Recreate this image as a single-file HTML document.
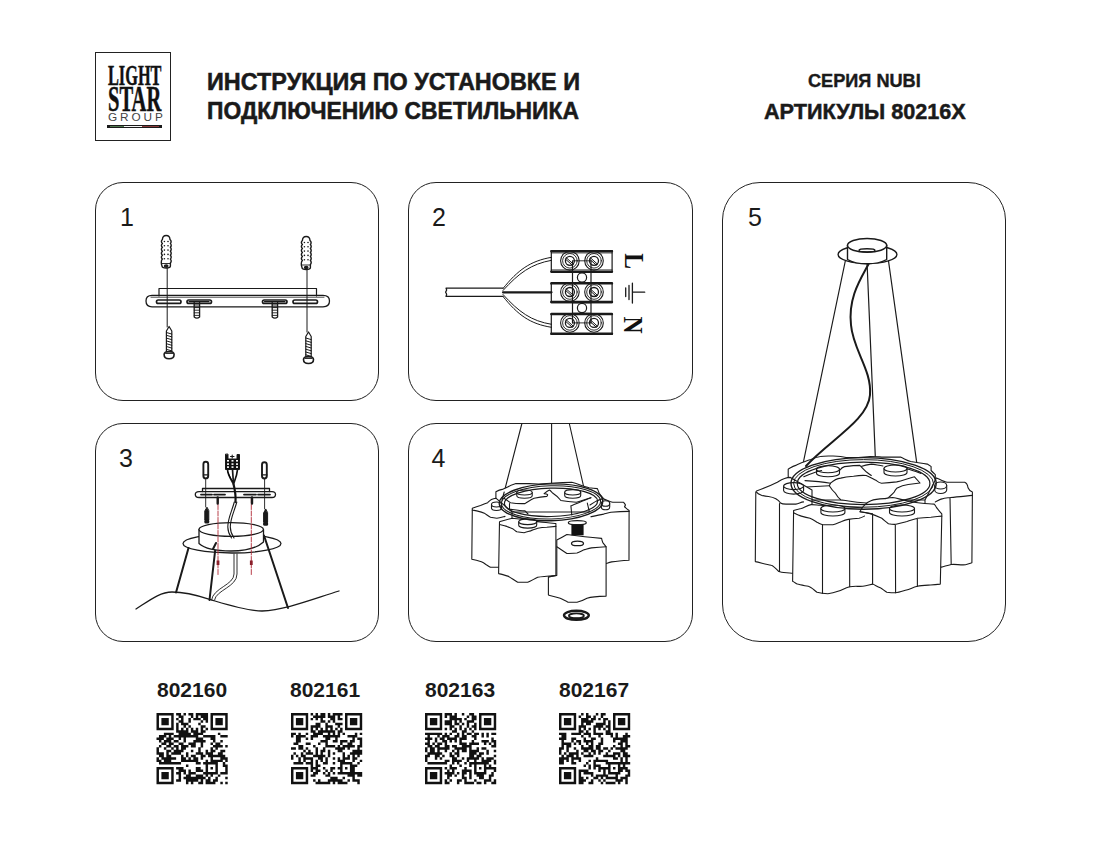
<!DOCTYPE html>
<html><head><meta charset="utf-8">
<style>
html,body{margin:0;padding:0;background:#fff;}
body{width:1100px;height:848px;position:relative;overflow:hidden;font-family:"Liberation Sans",sans-serif;color:#1a1a1a;}
.abs{position:absolute;}
.panel{position:absolute;border:1.3px solid #222;border-radius:28px;box-sizing:border-box;}
.num{position:absolute;font-size:25px;line-height:1;color:#1a1a1a;}
.h1{position:absolute;font-weight:bold;font-size:24px;line-height:1;white-space:nowrap;transform-origin:0 0;}
.lbl{position:absolute;font-weight:bold;font-size:21px;line-height:1;white-space:nowrap;transform-origin:0 0;}
.lg{position:absolute;font-family:"Liberation Serif",serif;font-weight:bold;line-height:1;white-space:nowrap;transform-origin:0 0;color:#111;}
svg.full{position:absolute;left:0;top:0;}
</style></head><body>
<!-- logo -->
<div class="abs" style="left:95px;top:52px;width:76px;height:89px;border:1.5px solid #222;box-sizing:border-box;"></div>
<div class="lg" id="lg1" style="left:108px;top:61px;font-size:28.8px;transform:scaleX(0.566);-webkit-text-stroke:0.5px #111;">LIGHT</div>
<div class="lg" id="lg2" style="left:107.5px;top:82.5px;font-size:34.8px;transform:scaleX(0.59);-webkit-text-stroke:0.5px #111;">STAR</div>
<div class="abs" id="lg3" style="left:108px;top:112px;font-size:11.8px;letter-spacing:2.9px;color:#444;line-height:1;">GROUP</div>
<div class="abs" style="left:107px;top:124.8px;width:55px;height:3px;background:#1a1a1a;"></div>
<div class="abs" style="left:110px;top:125.8px;width:14px;height:1px;background:#4f7a4f;"></div>
<div class="abs" style="left:124px;top:125.8px;width:18px;height:1px;background:#f4f4f4;"></div>
<div class="abs" style="left:142px;top:125.8px;width:17px;height:1px;background:#8a3a3a;"></div>
<div class="h1" style="left:207.3px;top:69.8px;transform:scaleX(0.975);-webkit-text-stroke:0.55px #1a1a1a;">ИНСТРУКЦИЯ ПО УСТАНОВКЕ И</div>
<div class="h1" style="left:207.3px;top:98.8px;transform:scaleX(0.952);-webkit-text-stroke:0.55px #1a1a1a;">ПОДКЛЮЧЕНИЮ СВЕТИЛЬНИКА</div>
<div class="h1" style="left:808px;top:72px;font-size:18.5px;transform:scaleX(0.98);-webkit-text-stroke:0.4px #1a1a1a;">СЕРИЯ NUBI</div>
<div class="h1" style="left:763.8px;top:101px;font-size:22px;transform:scaleX(0.983);-webkit-text-stroke:0.5px #1a1a1a;">АРТИКУЛЫ 80216X</div>

<div class="panel" style="left:95px;top:182px;width:284px;height:219px;"></div>
<div class="panel" style="left:408px;top:182px;width:285px;height:219px;"></div>
<div class="panel" style="left:95px;top:423px;width:284px;height:219px;"></div>
<div class="panel" style="left:408px;top:423px;width:285px;height:219px;"></div>
<div class="panel" style="left:722px;top:182px;width:284px;height:460px;border-radius:38px;"></div>

<div class="num" style="left:120px;top:205px;">1</div>
<div class="num" style="left:432px;top:205px;">2</div>
<div class="num" style="left:119px;top:446px;">3</div>
<div class="num" style="left:431.5px;top:446px;">4</div>
<div class="num" style="left:748px;top:205px;">5</div>

<div class="lbl" style="left:157px;top:679px;">802160</div>
<div class="lbl" style="left:290px;top:679px;">802161</div>
<div class="lbl" style="left:425px;top:679px;">802163</div>
<div class="lbl" style="left:559px;top:679px;">802167</div>
<svg class="full" width="1100" height="848" viewBox="0 0 1100 848">

<g fill="none" stroke="#1a1a1a" stroke-width="1.2" stroke-linejoin="round" stroke-linecap="round">
<path d="M162.4 239.5 Q162.6 235.5 166.2 235.5 Q169.8 235.5 170.0 239.5 Q172.0 241.5 170.4 243.4 Q172.0 245.4 170.4 247.3 Q172.0 249.3 170.4 251.2 Q172.0 253.2 170.4 255.2 Q172.0 257.1 170.4 259.1 Q172.0 261.0 170.4 263.0 L170.4 266.0 Q170.4 268.0 166.2 268.0 Q162.0 268.0 162.0 266.0 Q160.4 261.0 162.4 259.1 Q160.4 257.1 162.4 255.2 Q160.4 253.2 162.4 251.2 Q160.4 249.3 162.4 247.3 Q160.4 245.4 162.4 243.4 Q160.4 241.5 162.4 239.5 Z" stroke-width="1.4"/>
<g fill="#1a1a1a" stroke="none"><circle cx="164.4" cy="241.5" r="0.8"/><circle cx="168.0" cy="241.5" r="0.8"/><circle cx="164.4" cy="245.8" r="0.8"/><circle cx="168.0" cy="245.8" r="0.8"/><circle cx="164.4" cy="250.1" r="0.8"/><circle cx="168.0" cy="250.1" r="0.8"/><circle cx="164.4" cy="254.4" r="0.8"/><circle cx="168.0" cy="254.4" r="0.8"/><circle cx="164.4" cy="258.7" r="0.8"/><circle cx="168.0" cy="258.7" r="0.8"/></g>
<path d="M162.4 263.5 L170.0 263.5" stroke-width="0.9"/><ellipse cx="166.2" cy="266.0" rx="1.8" ry="1.1" fill="#1a1a1a"/>
<path d="M302.4 240.5 Q302.6 236.5 306.2 236.5 Q309.8 236.5 310.0 240.5 Q312.0 242.5 310.4 244.5 Q312.0 246.5 310.4 248.5 Q312.0 250.5 310.4 252.5 Q312.0 254.5 310.4 256.5 Q312.0 258.5 310.4 260.5 Q312.0 262.5 310.4 264.5 L310.4 267.5 Q310.4 269.5 306.2 269.5 Q302.0 269.5 302.0 267.5 Q300.4 262.5 302.4 260.5 Q300.4 258.5 302.4 256.5 Q300.4 254.5 302.4 252.5 Q300.4 250.5 302.4 248.5 Q300.4 246.5 302.4 244.5 Q300.4 242.5 302.4 240.5 Z" stroke-width="1.4"/>
<g fill="#1a1a1a" stroke="none"><circle cx="304.4" cy="242.5" r="0.8"/><circle cx="308.0" cy="242.5" r="0.8"/><circle cx="304.4" cy="246.8" r="0.8"/><circle cx="308.0" cy="246.8" r="0.8"/><circle cx="304.4" cy="251.1" r="0.8"/><circle cx="308.0" cy="251.1" r="0.8"/><circle cx="304.4" cy="255.4" r="0.8"/><circle cx="308.0" cy="255.4" r="0.8"/><circle cx="304.4" cy="259.7" r="0.8"/><circle cx="308.0" cy="259.7" r="0.8"/></g>
<path d="M302.4 265.0 L310.0 265.0" stroke-width="0.9"/><ellipse cx="306.2" cy="267.5" rx="1.8" ry="1.1" fill="#1a1a1a"/>
<path d="M167.2 268 L167.2 327 M307 269.5 L307 332" stroke-width="1"/>
<path d="M159 296 L159 288.5 L316.5 288.5 L316.5 296" />
<path d="M152 295.3 L323 295.3 Q329.5 295.3 329.5 301 Q329.5 306.8 323 306.8 L152 306.8 Q146 306.8 146 301 Q146 295.3 152 295.3 Z" stroke-width="1.3"/>
<path d="M151 297.2 L324 297.2" stroke-width="0.8"/>
<g stroke-width="1.7"><rect x="156.5" y="300" width="24.5" height="3.4" rx="1.7" /><rect x="187" y="300" width="24.5" height="3.4" rx="1.7" /><rect x="262.5" y="300" width="24.5" height="3.4" rx="1.7" /><rect x="293" y="300" width="24.5" height="3.4" rx="1.7" /></g>
<path d="M189 301.7 L209 301.7 M264.5 301.7 L285 301.7" stroke-width="1.2"/>
<path d="M194.2 302.5 L194.2 317.0 Q196.9 319.3 199.6 317.0 L199.6 302.5" stroke-width="1.3"/>
<path d="M194.2 305.0 L199.6 305.0 M194.2 307.6 L199.6 307.6 M194.2 310.2 L199.6 310.2 M194.2 312.8 L199.6 312.8 M194.2 315.4 L199.6 315.4 " stroke-width="0.9"/>
<path d="M272.2 302.5 L272.2 317.0 Q274.9 319.3 277.6 317.0 L277.6 302.5" stroke-width="1.3"/>
<path d="M272.2 305.0 L277.6 305.0 M272.2 307.6 L277.6 307.6 M272.2 310.2 L277.6 310.2 M272.2 312.8 L277.6 312.8 M272.2 315.4 L277.6 315.4 " stroke-width="0.9"/>
<path d="M169.1 326.5 L166.4 331.0 L166.4 352.0 L171.8 352.0 L171.8 331.0 Z" stroke-width="1.2"/>
<path d="M166.4 332.5 L171.8 334.1 M166.4 335.3 L171.8 336.9 M166.4 338.1 L171.8 339.7 M166.4 340.9 L171.8 342.5 M166.4 343.7 L171.8 345.3 M166.4 346.5 L171.8 348.1 M166.4 349.3 L171.8 350.9 " stroke-width="1"/>
<path d="M164.1 354.5 Q164.1 351.5 169.1 351.5 Q174.1 351.5 174.1 354.5 Q174.1 358.8 169.1 358.8 Q164.1 358.8 164.1 354.5 Z" stroke-width="1.6"/>
<path d="M165.6 353.5 L172.6 353.5" stroke-width="0.9"/>
<path d="M308.5 332.0 L305.8 336.5 L305.8 357.0 L311.2 357.0 L311.2 336.5 Z" stroke-width="1.2"/>
<path d="M305.8 338.0 L311.2 339.6 M305.8 340.8 L311.2 342.4 M305.8 343.6 L311.2 345.2 M305.8 346.4 L311.2 348.0 M305.8 349.2 L311.2 350.8 M305.8 352.0 L311.2 353.6 M305.8 354.8 L311.2 356.4 " stroke-width="1"/>
<path d="M303.5 359.5 Q303.5 356.5 308.5 356.5 Q313.5 356.5 313.5 359.5 Q313.5 363.5 308.5 363.5 Q303.5 363.5 303.5 359.5 Z" stroke-width="1.6"/>
<path d="M305.0 358.5 L312.0 358.5" stroke-width="0.9"/>
</g>

<g fill="none" stroke="#1a1a1a" stroke-width="1.2" stroke-linejoin="round" stroke-linecap="round">
<!-- cable -->
<path d="M446 288.2 L503 288.2 M446 296.4 L503 296.4 M446 288.2 q1.5 2 -0.5 4 q2 2 0.5 4.2" />
<!-- wires -->
<path d="M503 288.5 C518 270, 530 261, 551.5 257.3 M503 290.5 C519 273, 531 264, 551.5 260.3" stroke-width="1"/>
<path d="M503 294.5 C519 312, 531 321, 551.5 324.3 M503 296.5 C518 315, 530 324, 551.5 327.3" stroke-width="1"/>
<path d="M503 292.3 L551.5 292.3" stroke-width="2.2"/>
<!-- blocks -->
<rect x="551.3" y="250.5" width="60.8" height="21.8" />
<path d="M551.3 251.2 L612 251.2 M551.3 271.6 L612 271.6" stroke-width="2.4"/>
<path d="M551.3 253 L612 253 M551.3 269.8 L612 269.8" stroke-width="0.7"/>
<rect x="551.3" y="282.7" width="60.8" height="20" />
<path d="M551.3 283.4 L612 283.4 M551.3 302 L612 302" stroke-width="2.4"/>
<rect x="551.3" y="313.4" width="60.8" height="21" />
<path d="M551.3 314.1 L612 314.1 M551.3 333.8 L612 333.8" stroke-width="2.4"/>
<!-- strip -->
<path d="M572.5 261 L572.5 323 M591 261 L591 323 M572.5 272.4 L591 272.4 M572.5 282.7 L591 282.7 M572.5 302.7 L591 302.7 M572.5 313.4 L591 313.4" />
<circle cx="582" cy="277.5" r="4.6" />
<circle cx="582" cy="308" r="4.6" />
<!-- screws -->
<g id="scr">
<circle cx="569.9" cy="260.8" r="9.3" stroke-width="1.1"/>
<circle cx="569.9" cy="260.8" r="7.3" stroke-width="0.9"/>
<circle cx="569.9" cy="260.8" r="4.5" stroke-width="1.3"/>
<path d="M566 257.5 L573.5 264.3 M565.2 258.9 L572.4 265.2" stroke-width="1"/>
</g>
<use href="#scr" x="24.1" y="0"/>
<use href="#scr" x="0" y="31.2"/>
<use href="#scr" x="24.1" y="31.2"/>
<use href="#scr" x="0" y="62.1"/>
<use href="#scr" x="24.1" y="62.1"/>
<path d="M572.5 260.8 L591 260.8 M572.5 322.9 L591 322.9" stroke-width="0.9"/>
<!-- ground symbol -->
<path d="M625.7 287.8 L625.7 296.5 M629 285.5 L629 299.5 M632.4 283.2 L632.4 303 M632.4 292.2 L644.7 292.2" stroke-width="1.3"/>
</g>
<text x="0" y="0" transform="translate(624.5 253.2) rotate(90) scale(0.84 1)" font-family="Liberation Serif" font-weight="bold" font-size="28" fill="#111" dominant-baseline="alphabetic"><tspan x="0" y="0">L</tspan></text>
<text x="0" y="0" transform="translate(624 316.5) rotate(90) scale(0.84 1)" font-family="Liberation Serif" font-weight="bold" font-size="28" fill="#111"><tspan x="0" y="0">N</tspan></text>

<g fill="none" stroke="#1a1a1a" stroke-width="1.2" stroke-linejoin="round" stroke-linecap="round">
<!-- ceiling curve -->
<path d="M136 609 C150 600, 160 592, 172 592 C190 592, 205 598, 215 601 C235 607, 250 611, 262 611 C285 610, 310 600, 339 591" stroke-width="1.3"/>
<!-- cone lines thick -->
<path d="M188.5 548 L176 592.5 M216 543 L209.5 600 M264 535.5 L288 608" stroke-width="2"/>
<!-- plate ellipse -->
<ellipse cx="232" cy="543.5" rx="49" ry="9.5" stroke-width="1.3"/>
<!-- cylinder -->
<path d="M199 529.5 L199 543.5 C205 549, 218 551, 231 551 C245 551, 257 548, 263.5 542 L263.5 529.5" fill="#fff" stroke-width="1.3"/>
<ellipse cx="231.2" cy="529.5" rx="32.2" ry="6.8" fill="#fff" stroke-width="1.3"/>
<!-- wire double -->
<path d="M234 554 L234 574 C234 585, 213 588, 211.5 600 M237 554 L237 574 C237 587, 216 590, 214.5 600" stroke-width="0.9"/>
<!-- wire above -->
<path d="M234.3 502 C232 511, 227.8 518, 227.8 527 C227.8 532, 229.5 535, 231.5 538 M236.8 502 C234.5 511, 230.3 518, 230.3 527 C230.3 532, 232 535, 234 538" stroke-width="1.1"/>
<path d="M216 543 L213 549" stroke-width="2"/>
<!-- red dashed -->
<path d="M218 498 L218 576 M251.3 498 L251.3 576" stroke="#b02a37" stroke-width="0.9" stroke-dasharray="5 1.5" />
<rect x="216.6" y="560.5" width="2.8" height="4.5" fill="#8a1f2a" stroke="none"/>
<rect x="249.9" y="560.5" width="2.8" height="4.5" fill="#8a1f2a" stroke="none"/>
<!-- bracket -->
<path d="M202.5 491.5 L202.5 488.5 L269.5 488.5 L269.5 491.5" stroke-width="1.3"/>
<path d="M199 491.6 L272 491.6 Q275.5 491.6 275.5 494.5 Q275.5 497.5 272 497.5 L199 497.5 Q195.3 497.5 195.3 494.5 Q195.3 491.6 199 491.6 Z" stroke-width="1.3"/>
<path d="M201 494.6 L212 494.6 M214 494.6 L225 494.6 M244 494.6 L256 494.6 M258 494.6 L270 494.6" stroke-width="1.8"/>
<path d="M217.7 497.5 L217.7 503.5 M252 497.5 L252 503.5" stroke-width="2.4"/>
<!-- dowel lines -->
<path d="M205.7 479 L205.7 507 M264.6 479 L264.6 509" stroke-width="0.9"/>
<!-- top dowels -->
<rect x="203.4" y="461.8" width="4.8" height="16.6" rx="2.4" stroke-width="1.9"/>
<path d="M203.5 474.8 L208.2 474.8" stroke-width="1.3"/>
<rect x="262" y="462.3" width="4.8" height="16.2" rx="2.4" stroke-width="1.9"/>
<path d="M262 474.8 L266.8 474.8" stroke-width="1.3"/>
<!-- bottom screws -->
<path d="M206.8 507.5 L204.8 511 L204.8 520 L208.8 520 L208.8 511 Z" fill="#1a1a1a" stroke-width="1"/>
<rect x="204.3" y="519.5" width="5" height="4" rx="1.5" fill="#1a1a1a" stroke="none"/>
<path d="M265.6 509.3 L263.6 513 L263.6 522 L267.6 522 L267.6 513 Z" fill="#1a1a1a" stroke-width="1"/>
<rect x="263.1" y="521.5" width="5" height="4.2" rx="1.5" fill="#1a1a1a" stroke="none"/>
<!-- terminal connector -->
<path d="M225.5 454.5 L225.5 469.5 L239.5 469.5 L239.5 454.5 L237 454.5 L237 459 L228 459 L228 454.5 Z" fill="#111" stroke-width="1"/>
<g fill="#fff" stroke="none"><rect x="227" y="460" width="2" height="1.6"/><rect x="231.5" y="460" width="2" height="1.6"/><rect x="236" y="460" width="2" height="1.6"/><rect x="227" y="463.3" width="2" height="1.6"/><rect x="231.5" y="463.3" width="2" height="1.6"/><rect x="236" y="463.3" width="2" height="1.6"/><rect x="227" y="466.3" width="2" height="1.6"/><rect x="231.5" y="466.3" width="2" height="1.6"/><rect x="236" y="466.3" width="2" height="1.6"/></g>
<path d="M230.5 456.5 L234 456.5 M232.2 455 L232.2 458" stroke-width="1.1"/>
<path d="M227.5 469.5 C228 476, 231.5 480, 233.5 484 M232.5 469.5 L233.5 484 M237.5 469.5 C237 476, 235 480, 233.5 484" stroke-width="1.7"/>
<path d="M233.5 484 C235 490, 236 495, 235.5 502" stroke-width="2.2"/>
</g>
<path d="M230.5 455.5 L234 455.5 M232.2 454 L232.2 457.5" stroke-width="1.1"/>
<path d="M227 469.5 C227.5 476, 232 480, 234 484 M232 469.5 L234 484 M237.5 469.5 C237 476, 235 480, 234 484" stroke-width="1.3"/>
<path d="M234 484 C235 490, 236 495, 235.5 502" stroke-width="2.2"/>
</g>

<g fill="#fff" stroke="#1a1a1a" stroke-width="1.1" stroke-linejoin="round" stroke-linecap="round">
<path d="M521.9 423.5 L504.2 492 M551.6 423.5 L551.6 485 M569.3 423.5 L589.3 511.6" fill="none"/>
<!-- back tops E1/E2 -->
<path d="M495.9 498 L495.9 491.8 C498 490.5, 501 489.5, 503.2 489.1 C507 487.5, 510 485.5, 513.2 484.5 L515.9 483.6 L527.7 483.6 C533 483.5, 538 484, 540 484.1 C550 483, 562 482.5, 571.8 482.3 C578 484, 584 486.5, 589.1 487.7 C592 488.2, 595 488.5, 597.3 488.6 C598 490, 598.5 491.5, 599.1 493.2 C600.5 495, 602 497, 603.6 498.6 L603 512 L497 512 Z"/>
<path d="M516.8 492.5 L516.8 495.7 A7.7 2.5 0 0 0 532.2 495.7 L532.2 492.5" stroke-width="1.1"/><ellipse cx="524.5" cy="492.5" rx="7.7" ry="2.5" stroke-width="1.1"/>
<path d="M564.7 492.3 L564.7 495.5 A8.0 2.7 0 0 0 580.7 495.5 L580.7 492.3" stroke-width="1.1"/><ellipse cx="572.7" cy="492.3" rx="8.0" ry="2.7" stroke-width="1.1"/>
<path d="M504.1 498.2 C506 499.5, 508.5 501.5, 510.5 502.7 C515 503.5, 520 503.8, 525 503.6 C528 501.8, 531 499.5, 534.1 498.2 C538 497.5, 543 496.8, 546.8 496.4 C548 495, 548.5 494, 544.1 493.6 C546 492, 548 490.5, 549.5 490 C551 491, 551.5 492, 552.3 492.7 C555 494.5, 558 496.5, 560.9 500.5 C566 501.5, 571 502, 576.4 502.3 C581 501, 586 499, 590.9 497.7" fill="none"/>
<path d="M509.5 503.6 L509.5 509.1 C515 509.8, 520 510.5, 525 510.9 C526 512, 527 513, 528 514 M570.9 505.9 C578 503, 585 500, 590.9 497.7 M570.9 505.9 L571.8 515" fill="none"/>
<!-- A -->
<path d="M472.3 508.2 C475 507.2, 478 506.2, 480.5 505.5 C483 504.5, 485.5 503.5, 487.7 502.7 C489 501.5, 490 500.3, 491.4 499.5 C493 498.8, 494.5 498.4, 495.9 498.2 L512 512 L512 567.3 L498.6 567.3 C496 567.3, 493 567.3, 490.5 567.3 C489 566.3, 487.5 565.5, 485.9 564.5 C484.5 563.5, 483 562.5, 481.4 561.8 C478 560.8, 475 560, 471.8 559.3 Z"/>
<path d="M472.3 510 C474.5 510.5, 476.5 511, 478.6 511.4 C481 512, 483 512.8, 485 513.6 C487 515, 488.5 516.3, 490.5 517.3 C492.5 517.8, 494.5 518.1, 496.8 518.2 C499.5 517.8, 502.5 517, 505 516.4" fill="none"/>
<path d="M491.5 504.5 L491.5 508.0 A5.0 2.5 0 0 0 501.5 508.0 L501.5 504.5" stroke-width="1.1"/><ellipse cx="496.5" cy="504.5" rx="5.0" ry="2.5" stroke-width="1.1"/>
<!-- D (right) -->
<path d="M590 505 C594 502, 599 499.5, 602.7 498.6 C606 499.5, 609.5 501.5, 612.7 502.3 L623.6 502.3 C624.3 503, 625 504, 625.5 505 C625.2 505.6, 624.8 506.2, 624.5 506.8 C626 508, 627.5 509.5, 629.1 510.5 L629 560.2 C622 560.6, 616 561.2, 611.7 561.9 C609.5 562.5, 608 563, 606.1 563.6 L585 564 Z" stroke="none"/>
<path d="M590 505 C594 502, 599 499.5, 602.7 498.6 C606 499.5, 609.5 501.5, 612.7 502.3 L623.6 502.3 C624.3 503, 625 504, 625.5 505 C625.2 505.6, 624.8 506.2, 624.5 506.8 C626 508, 627.5 509.5, 629.1 510.5 L629 560.2 C622 560.6, 616 561.2, 611.7 561.9 C609.5 562.5, 608 563, 606.1 563.6" fill="none"/>
<path d="M590.9 516.8 C595 515.8, 599 514.8, 603.6 514.1 C606 513.5, 608.5 512.8, 610.9 512.3 C617 511.9, 623 511.6, 629.1 511.4" fill="none"/>
<path d="M601.3 503.5 L601.3 507.0 A4.2 2.8 0 0 0 609.7 507.0 L609.7 503.5" stroke-width="1.1"/><ellipse cx="605.5" cy="503.5" rx="4.2" ry="2.8" stroke-width="1.1"/>
<!-- B -->
<path d="M499.5 521.8 C503.5 520.5, 508 519, 512.3 518.2 C520 519, 535 521.5, 546 522.5 C550 523, 553 523.3, 555.9 523.6 L555.9 575.5 C549 576, 542 576.5, 537.7 577.3 C534 579, 531 581, 527.7 582.3 L517.7 582.3 C514.5 580.5, 511.5 578, 508.6 576.4 C505 575.3, 502 574.3, 498.6 573.6 Z"/>
<path d="M499.5 524.5 C502 525, 504.5 525.8, 506.8 526.4 C509 527.2, 511 528, 513.2 529.1 C514.5 530, 515.5 531, 516.8 531.8 C519 532.3, 521.5 532.6, 524.1 532.7 C526.5 532.2, 528.5 531.5, 530.5 530.9 C533 530, 535 529, 537.7 528.2 C540.5 527.8, 543.5 527.5, 546.8 527.3 C550 527, 553 526.7, 555.9 526.4" fill="none"/>
<path d="M518.7 521.8 L518.7 525.3 A9.0 2.8 0 0 0 536.7 525.3 L536.7 521.8" stroke-width="1.1"/><ellipse cx="527.7" cy="521.8" rx="9.0" ry="2.8" stroke-width="1.1"/>
<!-- C -->
<path d="M556.8 540.1 C560 538.5, 563.5 536.5, 566.9 534.5 L584.8 536.7 C590 537.3, 596 537.9, 601.6 538.4 C601.8 539.8, 602.2 541, 602.7 542.3 C603.8 543.8, 605 545.3, 606.1 546.8 L606.1 596.1 C600 596.2, 592 596.5, 587 598.3 C584 600, 580.5 601.5, 577 602.2 L568 602.2 C565 600.8, 562.5 599.2, 560.2 598.3 C556 597, 552 596, 548.4 595 L548.4 577 L556.8 575.4 Z"/>
<path d="M556.8 546.8 C560 548.8, 563.5 551.3, 566.9 553.5 C570 553.4, 573.5 553.2, 577 553 C579.5 552, 582 550.8, 584.8 549.6 C587 549, 589 548.4, 591.5 547.9 C596 547.5, 601 547.1, 606.1 546.8 M548.4 577 L555.9 575.5" fill="none"/>
<ellipse cx="577.5" cy="543.4" rx="6" ry="2.3" stroke-width="1.3"/>
<!-- rod -->
<rect x="571.4" y="523.5" width="12.2" height="11.8" fill="#111" stroke="none"/>
<ellipse cx="577.3" cy="522.7" rx="9" ry="2" stroke-width="1.2"/>
<!-- ring -->
<ellipse cx="551" cy="502.3" rx="51.8" ry="18.4" fill="none" stroke-width="1.4" transform="rotate(-1.5 551 502.3)"/>
<ellipse cx="551" cy="502.3" rx="49.6" ry="16.6" fill="none" stroke-width="1" transform="rotate(-1.5 551 502.3)"/>
<ellipse cx="551" cy="502.3" rx="46.6" ry="14.2" fill="none" stroke-width="1.2" transform="rotate(-1.5 551 502.3)"/>
<path d="M504.2 492 L502 500 M589.3 511.6 L587.3 503" fill="none"/>
<!-- nut -->
<ellipse cx="576.4" cy="615.3" rx="12.4" ry="4.6" fill="none" stroke-width="2.4"/>
<ellipse cx="576.4" cy="615.8" rx="7.5" ry="2.4" fill="none" stroke-width="1.8"/>
<path d="M566 618.5 L587 618.5" stroke-width="1.4" fill="none"/>
</g>

<g fill="#fff" stroke="#1a1a1a" stroke-width="1.1" stroke-linejoin="round" stroke-linecap="round">
<!-- canopy -->
<ellipse cx="867.5" cy="254.4" rx="29.4" ry="9.1" stroke-width="1.4"/>
<path d="M847.5 245.3 L847.5 259.5 C853 262.8, 860 263.8, 867 263.8 C874 263.8, 881 262.8, 886.7 259.5 L886.7 245.3" stroke-width="1.4"/>
<ellipse cx="867.1" cy="245.3" rx="19.6" ry="6.9" stroke-width="1.5"/>
<ellipse cx="867" cy="250.3" rx="8" ry="1.6" stroke-width="1.4" fill="none"/>
<path d="M845.3 261 L798 488 M867.1 264 L875.4 459 M888.5 261 L921.4 496" fill="none" stroke-width="1.2"/>
<!-- back shades tops -->
<path d="M788.2 476 L788.2 469.2 C791 467.5, 793 466, 795.8 465.4 C800 463.5, 805 461, 811 459.5 C814 458, 817 457, 820.4 456.5 C826 455.5, 840 456, 846 457.5 C855 458, 864 457, 870 456.5 C876 456.5, 880 457, 882.7 457.1 L900.5 457.1 C904 458.5, 907 460.5, 910.7 461.5 C916 462.5, 922 463, 927.3 464.1 C929 465, 930.5 465.5, 931.1 466.6 L931.1 470.5 C932.5 472, 934 473.5, 935.3 474.6 L935 500 L790 500 Z"/>
<path d="M816.5 469.2 L816.5 473.2 A11.5 3.5 0 0 0 839.5 473.2 L839.5 469.2" stroke-width="1.1"/><ellipse cx="828.0" cy="469.2" rx="11.5" ry="3.5" stroke-width="1.1"/>
<path d="M884.0 468.5 L884.0 472.5 A11.5 3.5 0 0 0 907.0 472.5 L907.0 468.5" stroke-width="1.1"/><ellipse cx="895.5" cy="468.5" rx="11.5" ry="3.5" stroke-width="1.1"/>
<path d="M803.8 476.8 C810 474, 816 471.5, 821.6 470.5 M839.5 470.5 C841 468.5, 842.5 467, 844.5 466.6 C850 466, 855 465.5, 859.8 465.4 C862 467.5, 864 470, 866.2 471.7 C868 473, 870 474.5, 871.3 475.5 M861 466.6 C865 465, 868 464.5, 871.3 464.1 C875 464.5, 879 465.5, 883 466 M907 469 C912 470, 917 472, 921 473.5" fill="none"/>
<path d="M830.5 483.2 C834 480, 837 478.5, 840.7 478.1 C845 477, 850 476.5, 853.5 476.2 C858 475.5, 862 475, 866.2 475.5 C870 477, 873 479, 876.4 480.6 C878 482, 880 483, 881.5 483.2 C886 483, 892 482.5, 896.7 481.9 C903 480.5, 909 478, 914.5 476.8 L920 483 C916 483.5, 912 484, 908.2 484.5 C904 485, 900 486.5, 896.7 488.3 C895.5 489.5, 895 490.5, 894.2 492.1 C892 494.5, 889 497, 886.5 499.7 C883 501, 880 502.5, 876.4 503.5 C865 503, 850 501.5, 840.7 499.7 C838.5 498, 837 496, 835.6 493.4 C833 491, 831 488.5, 829.3 485.7 Z" />
<path d="M805 480.6 C815 481, 824 482, 830.5 483.2 M806.4 487 C815 486.5, 823 486, 829.3 485.7" fill="none"/>
<!-- left shade L -->
<path d="M756.5 491 C762 489, 772 485, 777.3 482.3 C781 480, 784 477.6, 790.4 477.4 L812 490 L812 575 L791.9 573.2 C785 572.5, 781 572.5, 778.8 571.5 C775 568, 773 565.5, 771.2 565.3 C766 564.5, 760 562.5, 755.3 561.6 L755.8 492 Z"/>
<path d="M756.5 492.1 C758 494.5, 764 496.5, 768.5 496.5 C772 497, 778 499, 780.5 503 C782 504, 784 504.1, 786 504.1 L795.8 504.1 C799 503.5, 801 502, 803.5 501.9 M779.5 503.5 L779.5 571.5" fill="none"/>
<path d="M783.6 486.1 L783.6 490.6 A10.0 3.5 0 0 0 803.6 490.6 L803.6 486.1" stroke-width="1.1"/><ellipse cx="793.6" cy="486.1" rx="10.0" ry="3.5" stroke-width="1.1"/>
<!-- right shade R -->
<path d="M936.4 477.9 C940 479.5, 944 482, 947.3 482.3 L964.7 482.3 C966.5 483, 967.5 484, 968 487.7 C969 490, 971 491.5, 972.4 492.1 L971.9 562.7 C968 563.8, 966 564.8, 963.2 564.9 C958 564.8, 955 564, 951.2 564.5 C947 565.5, 944 566.5, 941.4 567.1 L925 567 L925 500 Z"/>
<path d="M935.3 501.9 C938 500.5, 940 499, 942.9 498.6 C946 498, 948 497.5, 950.5 497.5 C958 497, 966 496, 972.4 495.4 M950 497.5 L951.2 564.5" fill="none"/>
<path d="M934.7 485.5 L934.7 490.0 A6.0 3.5 0 0 0 946.7 490.0 L946.7 485.5" stroke-width="1.1"/><ellipse cx="940.7" cy="485.5" rx="6.0" ry="3.5" stroke-width="1.1"/>
<!-- front-left shade FL -->
<path d="M793.6 510.6 C796 509.5, 799 509, 801.3 508.5 C805 507, 808 505, 811.1 504.6 C814 504.5, 817 505, 819.8 505.2 L866 508 C868 510, 870 512, 872.6 513.9 L872.6 584.1 C869 585, 866 586, 862.8 586.3 C858 586.5, 853 586, 849.7 586.7 C845 588, 842 590, 838.8 591.1 C835 592.5, 831 593.5, 827.9 593.7 C823 593.5, 820 593, 817 592.2 C814 590, 811 587, 808.3 586.3 C804 585.5, 800 585, 797.4 584.1 C795.5 583, 794 582, 792.6 581.3 Z"/>
<path d="M793.6 512.8 C796 514, 799 515.5, 801.3 516.1 C805 517, 807 517.5, 810 518.3 C813 519.5, 815 521, 817.6 522.6 C819.5 523.5, 821 524.5, 823.1 524.8 L832.9 524.8 C836 524, 839 522.5, 841.6 521.5 C844 520.5, 846 519.8, 848.2 519.4 C852 518.8, 856 518.5, 859.1 518.3 C861 517.8, 863 516.8, 864.5 516.1 M822.5 524.8 L822.5 593.3 M849.5 519.4 L849.7 586.7" fill="none"/>
<!-- front-right shade FR -->
<path d="M860 511.7 C866 499, 876 499, 885.1 498.6 C888 498, 890 497.5, 892.7 497.5 C897 498, 902 500, 906.9 500.8 C911 501.5, 915 502.5, 920 503 C925 503.5, 930 504, 934.2 504.1 C935 505, 935.8 506, 936.4 507.4 C938 509.5, 940 512, 941.8 513.9 L941.8 516.1 L940.3 584.1 C937 584.5, 934 584.8, 930.5 585 C926 585.3, 921 585.5, 917.4 586.3 C913 587.5, 910 589, 906.5 590 C903 591, 899 592.5, 895.6 592.8 C892 592.8, 889 592.5, 886.8 592.2 C884 590.5, 882 588.5, 880.3 587.8 C877 586.5, 875 585, 872.6 584.1 L872.6 513.9 Z"/>
<path d="M860 511.7 C864 512, 868 513, 870.9 513.9 C875 515, 879 517, 881.8 518.3 C884 520, 886 522, 888.4 523.7 C891 524.2, 893 524.5, 896 524.3 C900 523.5, 903 522.5, 906.9 521.5 C910 520.5, 914 519, 917.8 518.3 C922 517.8, 926 517.5, 930.9 517.2 C935 516.8, 938 516.5, 941.8 516.1 M895.3 524.3 L895.6 592.8 M917.3 518.3 L917.4 586.3" fill="none"/>
<path d="M820.9 508.5 L820.9 512.5 A12.0 3.5 0 0 0 844.9 512.5 L844.9 508.5" stroke-width="1.1"/><ellipse cx="832.9" cy="508.5" rx="12.0" ry="3.5" stroke-width="1.1"/>
<path d="M889.5 508.5 L889.5 512.5 A12.5 3.5 0 0 0 914.5 512.5 L914.5 508.5" stroke-width="1.1"/><ellipse cx="902.0" cy="508.5" rx="12.5" ry="3.5" stroke-width="1.1"/>
<!-- ring -->
<ellipse cx="863.6" cy="483.4" rx="72.6" ry="25.8" fill="none" stroke-width="1.4"/>
<ellipse cx="863.6" cy="483.4" rx="70" ry="23.8" fill="none" stroke-width="1"/>
<ellipse cx="863.6" cy="483.4" rx="66.3" ry="21.2" fill="none" stroke-width="1.2"/>
<path d="M868.6 264 C860 280, 848 298, 851 325 C853 350, 872 370, 870 395 C868 420, 830 440, 806 466" fill="none" stroke-width="2"/>
</g>

<path fill="#111" d="M156.50 713.00h17.19v2.46h-17.19zM176.14 713.00h4.91v2.46h-4.91zM183.51 713.00h2.46v2.46h-2.46zM188.42 713.00h4.91v2.46h-4.91zM195.78 713.00h12.28v2.46h-12.28zM210.51 713.00h17.19v2.46h-17.19zM156.50 715.46h2.46v2.46h-2.46zM171.23 715.46h2.46v2.46h-2.46zM178.60 715.46h4.91v2.46h-4.91zM190.87 715.46h2.46v2.46h-2.46zM195.78 715.46h2.46v2.46h-2.46zM200.69 715.46h7.37v2.46h-7.37zM210.51 715.46h2.46v2.46h-2.46zM225.24 715.46h2.46v2.46h-2.46zM156.50 717.91h2.46v2.46h-2.46zM161.41 717.91h7.37v2.46h-7.37zM171.23 717.91h2.46v2.46h-2.46zM176.14 717.91h2.46v2.46h-2.46zM181.05 717.91h2.46v2.46h-2.46zM188.42 717.91h2.46v2.46h-2.46zM193.33 717.91h7.37v2.46h-7.37zM203.15 717.91h4.91v2.46h-4.91zM210.51 717.91h2.46v2.46h-2.46zM215.42 717.91h7.37v2.46h-7.37zM225.24 717.91h2.46v2.46h-2.46zM156.50 720.37h2.46v2.46h-2.46zM161.41 720.37h7.37v2.46h-7.37zM171.23 720.37h2.46v2.46h-2.46zM178.60 720.37h4.91v2.46h-4.91zM188.42 720.37h2.46v2.46h-2.46zM200.69 720.37h2.46v2.46h-2.46zM205.60 720.37h2.46v2.46h-2.46zM210.51 720.37h2.46v2.46h-2.46zM215.42 720.37h7.37v2.46h-7.37zM225.24 720.37h2.46v2.46h-2.46zM156.50 722.82h2.46v2.46h-2.46zM161.41 722.82h7.37v2.46h-7.37zM171.23 722.82h2.46v2.46h-2.46zM176.14 722.82h2.46v2.46h-2.46zM181.05 722.82h7.37v2.46h-7.37zM198.24 722.82h2.46v2.46h-2.46zM210.51 722.82h2.46v2.46h-2.46zM215.42 722.82h7.37v2.46h-7.37zM225.24 722.82h2.46v2.46h-2.46zM156.50 725.28h2.46v2.46h-2.46zM171.23 725.28h2.46v2.46h-2.46zM176.14 725.28h2.46v2.46h-2.46zM183.51 725.28h2.46v2.46h-2.46zM188.42 725.28h2.46v2.46h-2.46zM200.69 725.28h4.91v2.46h-4.91zM210.51 725.28h2.46v2.46h-2.46zM225.24 725.28h2.46v2.46h-2.46zM156.50 727.73h17.19v2.46h-17.19zM176.14 727.73h2.46v2.46h-2.46zM181.05 727.73h2.46v2.46h-2.46zM185.96 727.73h2.46v2.46h-2.46zM190.87 727.73h2.46v2.46h-2.46zM195.78 727.73h2.46v2.46h-2.46zM200.69 727.73h2.46v2.46h-2.46zM205.60 727.73h2.46v2.46h-2.46zM210.51 727.73h17.19v2.46h-17.19zM176.14 730.19h12.28v2.46h-12.28zM190.87 730.19h7.37v2.46h-7.37zM200.69 730.19h4.91v2.46h-4.91zM163.87 732.64h9.82v2.46h-9.82zM178.60 732.64h12.28v2.46h-12.28zM193.33 732.64h9.82v2.46h-9.82zM217.88 732.64h2.46v2.46h-2.46zM158.96 735.10h7.37v2.46h-7.37zM168.78 735.10h2.46v2.46h-2.46zM173.69 735.10h24.55v2.46h-24.55zM203.15 735.10h12.28v2.46h-12.28zM220.33 735.10h7.37v2.46h-7.37zM156.50 737.55h7.37v2.46h-7.37zM166.32 737.55h7.37v2.46h-7.37zM178.60 737.55h2.46v2.46h-2.46zM183.51 737.55h2.46v2.46h-2.46zM195.78 737.55h7.37v2.46h-7.37zM210.51 737.55h4.91v2.46h-4.91zM158.96 740.01h2.46v2.46h-2.46zM163.87 740.01h7.37v2.46h-7.37zM173.69 740.01h4.91v2.46h-4.91zM183.51 740.01h2.46v2.46h-2.46zM193.33 740.01h12.28v2.46h-12.28zM212.97 740.01h2.46v2.46h-2.46zM220.33 740.01h2.46v2.46h-2.46zM161.41 742.46h4.91v2.46h-4.91zM168.78 742.46h4.91v2.46h-4.91zM178.60 742.46h4.91v2.46h-4.91zM188.42 742.46h7.37v2.46h-7.37zM200.69 742.46h2.46v2.46h-2.46zM210.51 742.46h2.46v2.46h-2.46zM215.42 742.46h4.91v2.46h-4.91zM158.96 744.92h2.46v2.46h-2.46zM166.32 744.92h4.91v2.46h-4.91zM173.69 744.92h4.91v2.46h-4.91zM181.05 744.92h7.37v2.46h-7.37zM190.87 744.92h4.91v2.46h-4.91zM200.69 744.92h2.46v2.46h-2.46zM212.97 744.92h9.82v2.46h-9.82zM225.24 744.92h2.46v2.46h-2.46zM156.50 747.37h2.46v2.46h-2.46zM163.87 747.37h2.46v2.46h-2.46zM171.23 747.37h2.46v2.46h-2.46zM176.14 747.37h2.46v2.46h-2.46zM181.05 747.37h4.91v2.46h-4.91zM198.24 747.37h2.46v2.46h-2.46zM210.51 747.37h2.46v2.46h-2.46zM215.42 747.37h2.46v2.46h-2.46zM156.50 749.83h2.46v2.46h-2.46zM166.32 749.83h4.91v2.46h-4.91zM173.69 749.83h9.82v2.46h-9.82zM190.87 749.83h2.46v2.46h-2.46zM198.24 749.83h2.46v2.46h-2.46zM205.60 749.83h2.46v2.46h-2.46zM210.51 749.83h4.91v2.46h-4.91zM220.33 749.83h4.91v2.46h-4.91zM156.50 752.28h7.37v2.46h-7.37zM166.32 752.28h2.46v2.46h-2.46zM171.23 752.28h9.82v2.46h-9.82zM185.96 752.28h2.46v2.46h-2.46zM195.78 752.28h7.37v2.46h-7.37zM205.60 752.28h7.37v2.46h-7.37zM217.88 752.28h4.91v2.46h-4.91zM158.96 754.74h4.91v2.46h-4.91zM166.32 754.74h4.91v2.46h-4.91zM181.05 754.74h2.46v2.46h-2.46zM185.96 754.74h2.46v2.46h-2.46zM190.87 754.74h4.91v2.46h-4.91zM200.69 754.74h4.91v2.46h-4.91zM208.06 754.74h17.19v2.46h-17.19zM156.50 757.19h2.46v2.46h-2.46zM161.41 757.19h14.73v2.46h-14.73zM181.05 757.19h4.91v2.46h-4.91zM188.42 757.19h2.46v2.46h-2.46zM193.33 757.19h4.91v2.46h-4.91zM200.69 757.19h2.46v2.46h-2.46zM210.51 757.19h2.46v2.46h-2.46zM220.33 757.19h7.37v2.46h-7.37zM156.50 759.65h4.91v2.46h-4.91zM163.87 759.65h7.37v2.46h-7.37zM181.05 759.65h17.19v2.46h-17.19zM205.60 759.65h2.46v2.46h-2.46zM210.51 759.65h12.28v2.46h-12.28zM225.24 759.65h2.46v2.46h-2.46zM158.96 762.10h22.10v2.46h-22.10zM195.78 762.10h4.91v2.46h-4.91zM203.15 762.10h14.73v2.46h-14.73zM222.79 762.10h2.46v2.46h-2.46zM185.96 764.56h2.46v2.46h-2.46zM205.60 764.56h2.46v2.46h-2.46zM215.42 764.56h2.46v2.46h-2.46zM222.79 764.56h4.91v2.46h-4.91zM156.50 767.01h17.19v2.46h-17.19zM176.14 767.01h7.37v2.46h-7.37zM195.78 767.01h4.91v2.46h-4.91zM205.60 767.01h2.46v2.46h-2.46zM210.51 767.01h2.46v2.46h-2.46zM215.42 767.01h2.46v2.46h-2.46zM225.24 767.01h2.46v2.46h-2.46zM156.50 769.47h2.46v2.46h-2.46zM171.23 769.47h2.46v2.46h-2.46zM178.60 769.47h7.37v2.46h-7.37zM188.42 769.47h2.46v2.46h-2.46zM195.78 769.47h7.37v2.46h-7.37zM205.60 769.47h2.46v2.46h-2.46zM215.42 769.47h2.46v2.46h-2.46zM225.24 769.47h2.46v2.46h-2.46zM156.50 771.92h2.46v2.46h-2.46zM161.41 771.92h7.37v2.46h-7.37zM171.23 771.92h2.46v2.46h-2.46zM176.14 771.92h4.91v2.46h-4.91zM183.51 771.92h2.46v2.46h-2.46zM188.42 771.92h7.37v2.46h-7.37zM203.15 771.92h14.73v2.46h-14.73zM220.33 771.92h7.37v2.46h-7.37zM156.50 774.38h2.46v2.46h-2.46zM161.41 774.38h7.37v2.46h-7.37zM171.23 774.38h2.46v2.46h-2.46zM178.60 774.38h2.46v2.46h-2.46zM185.96 774.38h4.91v2.46h-4.91zM195.78 774.38h7.37v2.46h-7.37zM205.60 774.38h2.46v2.46h-2.46zM210.51 774.38h2.46v2.46h-2.46zM217.88 774.38h2.46v2.46h-2.46zM156.50 776.83h2.46v2.46h-2.46zM161.41 776.83h7.37v2.46h-7.37zM171.23 776.83h2.46v2.46h-2.46zM178.60 776.83h2.46v2.46h-2.46zM183.51 776.83h22.10v2.46h-22.10zM208.06 776.83h2.46v2.46h-2.46zM215.42 776.83h2.46v2.46h-2.46zM225.24 776.83h2.46v2.46h-2.46zM156.50 779.29h2.46v2.46h-2.46zM171.23 779.29h2.46v2.46h-2.46zM176.14 779.29h4.91v2.46h-4.91zM185.96 779.29h12.28v2.46h-12.28zM200.69 779.29h2.46v2.46h-2.46zM205.60 779.29h4.91v2.46h-4.91zM212.97 779.29h4.91v2.46h-4.91zM156.50 781.74h17.19v2.46h-17.19zM185.96 781.74h2.46v2.46h-2.46zM190.87 781.74h2.46v2.46h-2.46zM198.24 781.74h4.91v2.46h-4.91zM205.60 781.74h9.82v2.46h-9.82zM220.33 781.74h2.46v2.46h-2.46zM225.24 781.74h2.46v2.46h-2.46z"/>
<path fill="#111" d="M291.00 713.00h17.19v2.46h-17.19zM310.64 713.00h2.46v2.46h-2.46zM315.55 713.00h2.46v2.46h-2.46zM320.46 713.00h4.91v2.46h-4.91zM327.83 713.00h2.46v2.46h-2.46zM332.74 713.00h9.82v2.46h-9.82zM345.01 713.00h17.19v2.46h-17.19zM291.00 715.46h2.46v2.46h-2.46zM305.73 715.46h2.46v2.46h-2.46zM313.10 715.46h12.28v2.46h-12.28zM327.83 715.46h7.37v2.46h-7.37zM337.65 715.46h2.46v2.46h-2.46zM345.01 715.46h2.46v2.46h-2.46zM359.74 715.46h2.46v2.46h-2.46zM291.00 717.91h2.46v2.46h-2.46zM295.91 717.91h7.37v2.46h-7.37zM305.73 717.91h2.46v2.46h-2.46zM310.64 717.91h2.46v2.46h-2.46zM315.55 717.91h2.46v2.46h-2.46zM320.46 717.91h2.46v2.46h-2.46zM330.28 717.91h4.91v2.46h-4.91zM337.65 717.91h4.91v2.46h-4.91zM345.01 717.91h2.46v2.46h-2.46zM349.92 717.91h7.37v2.46h-7.37zM359.74 717.91h2.46v2.46h-2.46zM291.00 720.37h2.46v2.46h-2.46zM295.91 720.37h7.37v2.46h-7.37zM305.73 720.37h2.46v2.46h-2.46zM320.46 720.37h4.91v2.46h-4.91zM327.83 720.37h2.46v2.46h-2.46zM332.74 720.37h2.46v2.46h-2.46zM345.01 720.37h2.46v2.46h-2.46zM349.92 720.37h7.37v2.46h-7.37zM359.74 720.37h2.46v2.46h-2.46zM291.00 722.82h2.46v2.46h-2.46zM295.91 722.82h7.37v2.46h-7.37zM305.73 722.82h2.46v2.46h-2.46zM315.55 722.82h4.91v2.46h-4.91zM325.37 722.82h2.46v2.46h-2.46zM335.19 722.82h7.37v2.46h-7.37zM345.01 722.82h2.46v2.46h-2.46zM349.92 722.82h7.37v2.46h-7.37zM359.74 722.82h2.46v2.46h-2.46zM291.00 725.28h2.46v2.46h-2.46zM305.73 725.28h2.46v2.46h-2.46zM310.64 725.28h9.82v2.46h-9.82zM325.37 725.28h7.37v2.46h-7.37zM337.65 725.28h2.46v2.46h-2.46zM345.01 725.28h2.46v2.46h-2.46zM359.74 725.28h2.46v2.46h-2.46zM291.00 727.73h17.19v2.46h-17.19zM310.64 727.73h2.46v2.46h-2.46zM315.55 727.73h2.46v2.46h-2.46zM320.46 727.73h2.46v2.46h-2.46zM325.37 727.73h2.46v2.46h-2.46zM330.28 727.73h2.46v2.46h-2.46zM335.19 727.73h2.46v2.46h-2.46zM340.10 727.73h2.46v2.46h-2.46zM345.01 727.73h17.19v2.46h-17.19zM310.64 730.19h4.91v2.46h-4.91zM318.01 730.19h17.19v2.46h-17.19zM337.65 730.19h4.91v2.46h-4.91zM291.00 732.64h4.91v2.46h-4.91zM298.37 732.64h2.46v2.46h-2.46zM305.73 732.64h2.46v2.46h-2.46zM313.10 732.64h9.82v2.46h-9.82zM327.83 732.64h2.46v2.46h-2.46zM332.74 732.64h2.46v2.46h-2.46zM337.65 732.64h2.46v2.46h-2.46zM342.56 732.64h2.46v2.46h-2.46zM354.83 732.64h2.46v2.46h-2.46zM359.74 732.64h2.46v2.46h-2.46zM291.00 735.10h2.46v2.46h-2.46zM295.91 735.10h9.82v2.46h-9.82zM310.64 735.10h7.37v2.46h-7.37zM322.92 735.10h17.19v2.46h-17.19zM347.47 735.10h9.82v2.46h-9.82zM295.91 737.55h4.91v2.46h-4.91zM305.73 737.55h2.46v2.46h-2.46zM310.64 737.55h2.46v2.46h-2.46zM325.37 737.55h4.91v2.46h-4.91zM335.19 737.55h2.46v2.46h-2.46zM352.38 737.55h2.46v2.46h-2.46zM357.29 737.55h4.91v2.46h-4.91zM295.91 740.01h4.91v2.46h-4.91zM320.46 740.01h7.37v2.46h-7.37zM332.74 740.01h4.91v2.46h-4.91zM340.10 740.01h7.37v2.46h-7.37zM349.92 740.01h4.91v2.46h-4.91zM359.74 740.01h2.46v2.46h-2.46zM293.46 742.46h4.91v2.46h-4.91zM305.73 742.46h4.91v2.46h-4.91zM318.01 742.46h2.46v2.46h-2.46zM325.37 742.46h2.46v2.46h-2.46zM340.10 742.46h2.46v2.46h-2.46zM347.47 742.46h4.91v2.46h-4.91zM359.74 742.46h2.46v2.46h-2.46zM298.37 744.92h4.91v2.46h-4.91zM313.10 744.92h2.46v2.46h-2.46zM325.37 744.92h9.82v2.46h-9.82zM337.65 744.92h2.46v2.46h-2.46zM342.56 744.92h12.28v2.46h-12.28zM357.29 744.92h4.91v2.46h-4.91zM291.00 747.37h4.91v2.46h-4.91zM298.37 747.37h4.91v2.46h-4.91zM305.73 747.37h2.46v2.46h-2.46zM315.55 747.37h2.46v2.46h-2.46zM322.92 747.37h2.46v2.46h-2.46zM335.19 747.37h9.82v2.46h-9.82zM347.47 747.37h2.46v2.46h-2.46zM357.29 747.37h2.46v2.46h-2.46zM303.28 749.83h2.46v2.46h-2.46zM308.19 749.83h2.46v2.46h-2.46zM315.55 749.83h2.46v2.46h-2.46zM320.46 749.83h4.91v2.46h-4.91zM327.83 749.83h2.46v2.46h-2.46zM337.65 749.83h4.91v2.46h-4.91zM352.38 749.83h9.82v2.46h-9.82zM293.46 752.28h2.46v2.46h-2.46zM300.82 752.28h2.46v2.46h-2.46zM305.73 752.28h7.37v2.46h-7.37zM315.55 752.28h2.46v2.46h-2.46zM320.46 752.28h2.46v2.46h-2.46zM327.83 752.28h2.46v2.46h-2.46zM332.74 752.28h2.46v2.46h-2.46zM342.56 752.28h2.46v2.46h-2.46zM349.92 752.28h12.28v2.46h-12.28zM291.00 754.74h2.46v2.46h-2.46zM295.91 754.74h2.46v2.46h-2.46zM300.82 754.74h4.91v2.46h-4.91zM313.10 754.74h12.28v2.46h-12.28zM327.83 754.74h2.46v2.46h-2.46zM342.56 754.74h2.46v2.46h-2.46zM347.47 754.74h2.46v2.46h-2.46zM352.38 754.74h2.46v2.46h-2.46zM357.29 754.74h2.46v2.46h-2.46zM291.00 757.19h2.46v2.46h-2.46zM298.37 757.19h2.46v2.46h-2.46zM303.28 757.19h9.82v2.46h-9.82zM318.01 757.19h4.91v2.46h-4.91zM325.37 757.19h2.46v2.46h-2.46zM332.74 757.19h2.46v2.46h-2.46zM337.65 757.19h2.46v2.46h-2.46zM342.56 757.19h7.37v2.46h-7.37zM352.38 757.19h4.91v2.46h-4.91zM298.37 759.65h2.46v2.46h-2.46zM303.28 759.65h2.46v2.46h-2.46zM310.64 759.65h2.46v2.46h-2.46zM315.55 759.65h2.46v2.46h-2.46zM320.46 759.65h2.46v2.46h-2.46zM325.37 759.65h2.46v2.46h-2.46zM337.65 759.65h7.37v2.46h-7.37zM352.38 759.65h2.46v2.46h-2.46zM359.74 759.65h2.46v2.46h-2.46zM293.46 762.10h9.82v2.46h-9.82zM305.73 762.10h7.37v2.46h-7.37zM315.55 762.10h2.46v2.46h-2.46zM322.92 762.10h4.91v2.46h-4.91zM332.74 762.10h2.46v2.46h-2.46zM340.10 762.10h12.28v2.46h-12.28zM357.29 762.10h2.46v2.46h-2.46zM310.64 764.56h2.46v2.46h-2.46zM315.55 764.56h4.91v2.46h-4.91zM340.10 764.56h2.46v2.46h-2.46zM349.92 764.56h7.37v2.46h-7.37zM291.00 767.01h17.19v2.46h-17.19zM310.64 767.01h7.37v2.46h-7.37zM322.92 767.01h2.46v2.46h-2.46zM330.28 767.01h4.91v2.46h-4.91zM337.65 767.01h4.91v2.46h-4.91zM345.01 767.01h2.46v2.46h-2.46zM349.92 767.01h4.91v2.46h-4.91zM291.00 769.47h2.46v2.46h-2.46zM305.73 769.47h2.46v2.46h-2.46zM310.64 769.47h2.46v2.46h-2.46zM315.55 769.47h4.91v2.46h-4.91zM325.37 769.47h2.46v2.46h-2.46zM330.28 769.47h2.46v2.46h-2.46zM340.10 769.47h2.46v2.46h-2.46zM349.92 769.47h4.91v2.46h-4.91zM291.00 771.92h2.46v2.46h-2.46zM295.91 771.92h7.37v2.46h-7.37zM305.73 771.92h2.46v2.46h-2.46zM313.10 771.92h4.91v2.46h-4.91zM322.92 771.92h2.46v2.46h-2.46zM327.83 771.92h2.46v2.46h-2.46zM332.74 771.92h2.46v2.46h-2.46zM337.65 771.92h24.55v2.46h-24.55zM291.00 774.38h2.46v2.46h-2.46zM295.91 774.38h7.37v2.46h-7.37zM305.73 774.38h2.46v2.46h-2.46zM310.64 774.38h4.91v2.46h-4.91zM325.37 774.38h4.91v2.46h-4.91zM347.47 774.38h7.37v2.46h-7.37zM357.29 774.38h4.91v2.46h-4.91zM291.00 776.83h2.46v2.46h-2.46zM295.91 776.83h7.37v2.46h-7.37zM305.73 776.83h2.46v2.46h-2.46zM330.28 776.83h7.37v2.46h-7.37zM342.56 776.83h2.46v2.46h-2.46zM352.38 776.83h2.46v2.46h-2.46zM291.00 779.29h2.46v2.46h-2.46zM305.73 779.29h2.46v2.46h-2.46zM313.10 779.29h2.46v2.46h-2.46zM318.01 779.29h2.46v2.46h-2.46zM327.83 779.29h14.73v2.46h-14.73zM347.47 779.29h2.46v2.46h-2.46zM352.38 779.29h7.37v2.46h-7.37zM291.00 781.74h17.19v2.46h-17.19zM315.55 781.74h14.73v2.46h-14.73zM332.74 781.74h2.46v2.46h-2.46zM337.65 781.74h9.82v2.46h-9.82zM357.29 781.74h2.46v2.46h-2.46z"/>
<path fill="#111" d="M425.00 713.00h17.19v2.46h-17.19zM444.64 713.00h7.37v2.46h-7.37zM454.46 713.00h2.46v2.46h-2.46zM461.83 713.00h2.46v2.46h-2.46zM469.19 713.00h4.91v2.46h-4.91zM479.01 713.00h17.19v2.46h-17.19zM425.00 715.46h2.46v2.46h-2.46zM439.73 715.46h2.46v2.46h-2.46zM444.64 715.46h2.46v2.46h-2.46zM449.55 715.46h7.37v2.46h-7.37zM466.74 715.46h2.46v2.46h-2.46zM471.65 715.46h4.91v2.46h-4.91zM479.01 715.46h2.46v2.46h-2.46zM493.74 715.46h2.46v2.46h-2.46zM425.00 717.91h2.46v2.46h-2.46zM429.91 717.91h7.37v2.46h-7.37zM439.73 717.91h2.46v2.46h-2.46zM449.55 717.91h12.28v2.46h-12.28zM464.28 717.91h2.46v2.46h-2.46zM471.65 717.91h4.91v2.46h-4.91zM479.01 717.91h2.46v2.46h-2.46zM483.92 717.91h7.37v2.46h-7.37zM493.74 717.91h2.46v2.46h-2.46zM425.00 720.37h2.46v2.46h-2.46zM429.91 720.37h7.37v2.46h-7.37zM439.73 720.37h2.46v2.46h-2.46zM444.64 720.37h7.37v2.46h-7.37zM454.46 720.37h2.46v2.46h-2.46zM459.37 720.37h2.46v2.46h-2.46zM466.74 720.37h7.37v2.46h-7.37zM479.01 720.37h2.46v2.46h-2.46zM483.92 720.37h7.37v2.46h-7.37zM493.74 720.37h2.46v2.46h-2.46zM425.00 722.82h2.46v2.46h-2.46zM429.91 722.82h7.37v2.46h-7.37zM439.73 722.82h2.46v2.46h-2.46zM444.64 722.82h7.37v2.46h-7.37zM454.46 722.82h4.91v2.46h-4.91zM461.83 722.82h2.46v2.46h-2.46zM466.74 722.82h2.46v2.46h-2.46zM474.10 722.82h2.46v2.46h-2.46zM479.01 722.82h2.46v2.46h-2.46zM483.92 722.82h7.37v2.46h-7.37zM493.74 722.82h2.46v2.46h-2.46zM425.00 725.28h2.46v2.46h-2.46zM439.73 725.28h2.46v2.46h-2.46zM449.55 725.28h4.91v2.46h-4.91zM459.37 725.28h2.46v2.46h-2.46zM466.74 725.28h2.46v2.46h-2.46zM471.65 725.28h4.91v2.46h-4.91zM479.01 725.28h2.46v2.46h-2.46zM493.74 725.28h2.46v2.46h-2.46zM425.00 727.73h17.19v2.46h-17.19zM444.64 727.73h2.46v2.46h-2.46zM449.55 727.73h2.46v2.46h-2.46zM454.46 727.73h2.46v2.46h-2.46zM459.37 727.73h2.46v2.46h-2.46zM464.28 727.73h2.46v2.46h-2.46zM469.19 727.73h2.46v2.46h-2.46zM474.10 727.73h2.46v2.46h-2.46zM479.01 727.73h17.19v2.46h-17.19zM452.01 730.19h4.91v2.46h-4.91zM461.83 730.19h4.91v2.46h-4.91zM471.65 730.19h2.46v2.46h-2.46zM425.00 732.64h17.19v2.46h-17.19zM444.64 732.64h2.46v2.46h-2.46zM449.55 732.64h2.46v2.46h-2.46zM456.92 732.64h2.46v2.46h-2.46zM461.83 732.64h2.46v2.46h-2.46zM466.74 732.64h4.91v2.46h-4.91zM474.10 732.64h4.91v2.46h-4.91zM481.47 732.64h2.46v2.46h-2.46zM486.38 732.64h2.46v2.46h-2.46zM491.29 732.64h4.91v2.46h-4.91zM427.46 735.10h2.46v2.46h-2.46zM437.28 735.10h2.46v2.46h-2.46zM442.19 735.10h7.37v2.46h-7.37zM454.46 735.10h4.91v2.46h-4.91zM461.83 735.10h4.91v2.46h-4.91zM471.65 735.10h4.91v2.46h-4.91zM481.47 735.10h2.46v2.46h-2.46zM486.38 735.10h2.46v2.46h-2.46zM425.00 737.55h7.37v2.46h-7.37zM434.82 737.55h2.46v2.46h-2.46zM439.73 737.55h4.91v2.46h-4.91zM447.10 737.55h9.82v2.46h-9.82zM459.37 737.55h7.37v2.46h-7.37zM474.10 737.55h2.46v2.46h-2.46zM491.29 737.55h2.46v2.46h-2.46zM427.46 740.01h2.46v2.46h-2.46zM434.82 740.01h2.46v2.46h-2.46zM442.19 740.01h4.91v2.46h-4.91zM449.55 740.01h2.46v2.46h-2.46zM454.46 740.01h2.46v2.46h-2.46zM459.37 740.01h2.46v2.46h-2.46zM471.65 740.01h2.46v2.46h-2.46zM481.47 740.01h7.37v2.46h-7.37zM491.29 740.01h4.91v2.46h-4.91zM425.00 742.46h4.91v2.46h-4.91zM432.37 742.46h2.46v2.46h-2.46zM437.28 742.46h4.91v2.46h-4.91zM444.64 742.46h2.46v2.46h-2.46zM459.37 742.46h7.37v2.46h-7.37zM469.19 742.46h9.82v2.46h-9.82zM483.92 742.46h2.46v2.46h-2.46zM488.83 742.46h2.46v2.46h-2.46zM493.74 742.46h2.46v2.46h-2.46zM427.46 744.92h4.91v2.46h-4.91zM434.82 744.92h4.91v2.46h-4.91zM444.64 744.92h4.91v2.46h-4.91zM452.01 744.92h4.91v2.46h-4.91zM461.83 744.92h9.82v2.46h-9.82zM491.29 744.92h4.91v2.46h-4.91zM425.00 747.37h2.46v2.46h-2.46zM429.91 747.37h4.91v2.46h-4.91zM437.28 747.37h12.28v2.46h-12.28zM454.46 747.37h12.28v2.46h-12.28zM469.19 747.37h2.46v2.46h-2.46zM476.56 747.37h2.46v2.46h-2.46zM481.47 747.37h4.91v2.46h-4.91zM425.00 749.83h2.46v2.46h-2.46zM429.91 749.83h4.91v2.46h-4.91zM437.28 749.83h2.46v2.46h-2.46zM444.64 749.83h2.46v2.46h-2.46zM452.01 749.83h2.46v2.46h-2.46zM456.92 749.83h2.46v2.46h-2.46zM461.83 749.83h4.91v2.46h-4.91zM469.19 749.83h9.82v2.46h-9.82zM486.38 749.83h2.46v2.46h-2.46zM493.74 749.83h2.46v2.46h-2.46zM427.46 752.28h14.73v2.46h-14.73zM449.55 752.28h2.46v2.46h-2.46zM454.46 752.28h4.91v2.46h-4.91zM469.19 752.28h7.37v2.46h-7.37zM479.01 752.28h4.91v2.46h-4.91zM486.38 752.28h2.46v2.46h-2.46zM425.00 754.74h4.91v2.46h-4.91zM434.82 754.74h4.91v2.46h-4.91zM442.19 754.74h2.46v2.46h-2.46zM449.55 754.74h4.91v2.46h-4.91zM456.92 754.74h2.46v2.46h-2.46zM469.19 754.74h4.91v2.46h-4.91zM476.56 754.74h4.91v2.46h-4.91zM493.74 754.74h2.46v2.46h-2.46zM425.00 757.19h2.46v2.46h-2.46zM434.82 757.19h2.46v2.46h-2.46zM439.73 757.19h2.46v2.46h-2.46zM452.01 757.19h4.91v2.46h-4.91zM461.83 757.19h2.46v2.46h-2.46zM466.74 757.19h12.28v2.46h-12.28zM481.47 757.19h2.46v2.46h-2.46zM486.38 757.19h7.37v2.46h-7.37zM425.00 759.65h2.46v2.46h-2.46zM444.64 759.65h4.91v2.46h-4.91zM452.01 759.65h9.82v2.46h-9.82zM466.74 759.65h2.46v2.46h-2.46zM474.10 759.65h2.46v2.46h-2.46zM481.47 759.65h9.82v2.46h-9.82zM493.74 759.65h2.46v2.46h-2.46zM427.46 762.10h19.64v2.46h-19.64zM452.01 762.10h2.46v2.46h-2.46zM456.92 762.10h2.46v2.46h-2.46zM464.28 762.10h2.46v2.46h-2.46zM469.19 762.10h19.64v2.46h-19.64zM493.74 762.10h2.46v2.46h-2.46zM449.55 764.56h2.46v2.46h-2.46zM459.37 764.56h2.46v2.46h-2.46zM469.19 764.56h2.46v2.46h-2.46zM474.10 764.56h2.46v2.46h-2.46zM483.92 764.56h2.46v2.46h-2.46zM488.83 764.56h2.46v2.46h-2.46zM425.00 767.01h17.19v2.46h-17.19zM444.64 767.01h2.46v2.46h-2.46zM449.55 767.01h7.37v2.46h-7.37zM464.28 767.01h2.46v2.46h-2.46zM474.10 767.01h2.46v2.46h-2.46zM479.01 767.01h2.46v2.46h-2.46zM483.92 767.01h12.28v2.46h-12.28zM425.00 769.47h2.46v2.46h-2.46zM439.73 769.47h2.46v2.46h-2.46zM447.10 769.47h2.46v2.46h-2.46zM452.01 769.47h2.46v2.46h-2.46zM461.83 769.47h9.82v2.46h-9.82zM474.10 769.47h2.46v2.46h-2.46zM483.92 769.47h2.46v2.46h-2.46zM493.74 769.47h2.46v2.46h-2.46zM425.00 771.92h2.46v2.46h-2.46zM429.91 771.92h7.37v2.46h-7.37zM439.73 771.92h2.46v2.46h-2.46zM444.64 771.92h9.82v2.46h-9.82zM456.92 771.92h2.46v2.46h-2.46zM461.83 771.92h4.91v2.46h-4.91zM469.19 771.92h2.46v2.46h-2.46zM474.10 771.92h12.28v2.46h-12.28zM491.29 771.92h2.46v2.46h-2.46zM425.00 774.38h2.46v2.46h-2.46zM429.91 774.38h7.37v2.46h-7.37zM439.73 774.38h2.46v2.46h-2.46zM447.10 774.38h4.91v2.46h-4.91zM454.46 774.38h2.46v2.46h-2.46zM461.83 774.38h2.46v2.46h-2.46zM469.19 774.38h2.46v2.46h-2.46zM476.56 774.38h7.37v2.46h-7.37zM488.83 774.38h4.91v2.46h-4.91zM425.00 776.83h2.46v2.46h-2.46zM429.91 776.83h7.37v2.46h-7.37zM439.73 776.83h2.46v2.46h-2.46zM447.10 776.83h2.46v2.46h-2.46zM461.83 776.83h4.91v2.46h-4.91zM469.19 776.83h2.46v2.46h-2.46zM479.01 776.83h4.91v2.46h-4.91zM488.83 776.83h2.46v2.46h-2.46zM425.00 779.29h2.46v2.46h-2.46zM439.73 779.29h2.46v2.46h-2.46zM444.64 779.29h2.46v2.46h-2.46zM449.55 779.29h2.46v2.46h-2.46zM456.92 779.29h4.91v2.46h-4.91zM464.28 779.29h2.46v2.46h-2.46zM474.10 779.29h2.46v2.46h-2.46zM483.92 779.29h7.37v2.46h-7.37zM493.74 779.29h2.46v2.46h-2.46zM425.00 781.74h17.19v2.46h-17.19zM444.64 781.74h4.91v2.46h-4.91zM456.92 781.74h2.46v2.46h-2.46zM464.28 781.74h9.82v2.46h-9.82zM476.56 781.74h4.91v2.46h-4.91zM483.92 781.74h2.46v2.46h-2.46zM491.29 781.74h4.91v2.46h-4.91z"/>
<path fill="#111" d="M559.00 713.00h17.19v2.46h-17.19zM581.10 713.00h2.46v2.46h-2.46zM586.01 713.00h2.46v2.46h-2.46zM595.83 713.00h2.46v2.46h-2.46zM600.74 713.00h4.91v2.46h-4.91zM613.01 713.00h17.19v2.46h-17.19zM559.00 715.46h2.46v2.46h-2.46zM573.73 715.46h2.46v2.46h-2.46zM578.64 715.46h2.46v2.46h-2.46zM586.01 715.46h4.91v2.46h-4.91zM593.37 715.46h2.46v2.46h-2.46zM600.74 715.46h2.46v2.46h-2.46zM613.01 715.46h2.46v2.46h-2.46zM627.74 715.46h2.46v2.46h-2.46zM559.00 717.91h2.46v2.46h-2.46zM563.91 717.91h7.37v2.46h-7.37zM573.73 717.91h2.46v2.46h-2.46zM581.10 717.91h7.37v2.46h-7.37zM590.92 717.91h4.91v2.46h-4.91zM598.28 717.91h2.46v2.46h-2.46zM603.19 717.91h4.91v2.46h-4.91zM613.01 717.91h2.46v2.46h-2.46zM617.92 717.91h7.37v2.46h-7.37zM627.74 717.91h2.46v2.46h-2.46zM559.00 720.37h2.46v2.46h-2.46zM563.91 720.37h7.37v2.46h-7.37zM573.73 720.37h2.46v2.46h-2.46zM581.10 720.37h12.28v2.46h-12.28zM603.19 720.37h2.46v2.46h-2.46zM608.10 720.37h2.46v2.46h-2.46zM613.01 720.37h2.46v2.46h-2.46zM617.92 720.37h7.37v2.46h-7.37zM627.74 720.37h2.46v2.46h-2.46zM559.00 722.82h2.46v2.46h-2.46zM563.91 722.82h7.37v2.46h-7.37zM573.73 722.82h2.46v2.46h-2.46zM581.10 722.82h2.46v2.46h-2.46zM586.01 722.82h4.91v2.46h-4.91zM595.83 722.82h9.82v2.46h-9.82zM608.10 722.82h2.46v2.46h-2.46zM613.01 722.82h2.46v2.46h-2.46zM617.92 722.82h7.37v2.46h-7.37zM627.74 722.82h2.46v2.46h-2.46zM559.00 725.28h2.46v2.46h-2.46zM573.73 725.28h2.46v2.46h-2.46zM578.64 725.28h7.37v2.46h-7.37zM593.37 725.28h9.82v2.46h-9.82zM605.65 725.28h4.91v2.46h-4.91zM613.01 725.28h2.46v2.46h-2.46zM627.74 725.28h2.46v2.46h-2.46zM559.00 727.73h17.19v2.46h-17.19zM578.64 727.73h2.46v2.46h-2.46zM583.55 727.73h2.46v2.46h-2.46zM588.46 727.73h2.46v2.46h-2.46zM593.37 727.73h2.46v2.46h-2.46zM598.28 727.73h2.46v2.46h-2.46zM603.19 727.73h2.46v2.46h-2.46zM608.10 727.73h2.46v2.46h-2.46zM613.01 727.73h17.19v2.46h-17.19zM578.64 730.19h4.91v2.46h-4.91zM586.01 730.19h2.46v2.46h-2.46zM593.37 730.19h2.46v2.46h-2.46zM605.65 730.19h4.91v2.46h-4.91zM559.00 732.64h7.37v2.46h-7.37zM571.28 732.64h9.82v2.46h-9.82zM583.55 732.64h7.37v2.46h-7.37zM593.37 732.64h9.82v2.46h-9.82zM605.65 732.64h7.37v2.46h-7.37zM615.47 732.64h2.46v2.46h-2.46zM625.29 732.64h2.46v2.46h-2.46zM561.46 735.10h4.91v2.46h-4.91zM581.10 735.10h2.46v2.46h-2.46zM588.46 735.10h2.46v2.46h-2.46zM598.28 735.10h2.46v2.46h-2.46zM610.56 735.10h2.46v2.46h-2.46zM615.47 735.10h2.46v2.46h-2.46zM622.83 735.10h7.37v2.46h-7.37zM559.00 737.55h7.37v2.46h-7.37zM571.28 737.55h4.91v2.46h-4.91zM583.55 737.55h2.46v2.46h-2.46zM590.92 737.55h4.91v2.46h-4.91zM600.74 737.55h2.46v2.46h-2.46zM613.01 737.55h14.73v2.46h-14.73zM561.46 740.01h2.46v2.46h-2.46zM571.28 740.01h2.46v2.46h-2.46zM576.19 740.01h4.91v2.46h-4.91zM583.55 740.01h9.82v2.46h-9.82zM600.74 740.01h2.46v2.46h-2.46zM613.01 740.01h2.46v2.46h-2.46zM620.38 740.01h7.37v2.46h-7.37zM561.46 742.46h9.82v2.46h-9.82zM573.73 742.46h2.46v2.46h-2.46zM578.64 742.46h2.46v2.46h-2.46zM586.01 742.46h2.46v2.46h-2.46zM590.92 742.46h2.46v2.46h-2.46zM598.28 742.46h4.91v2.46h-4.91zM617.92 742.46h4.91v2.46h-4.91zM625.29 742.46h2.46v2.46h-2.46zM561.46 744.92h2.46v2.46h-2.46zM566.37 744.92h4.91v2.46h-4.91zM581.10 744.92h2.46v2.46h-2.46zM588.46 744.92h4.91v2.46h-4.91zM595.83 744.92h4.91v2.46h-4.91zM613.01 744.92h2.46v2.46h-2.46zM620.38 744.92h2.46v2.46h-2.46zM625.29 744.92h4.91v2.46h-4.91zM559.00 747.37h4.91v2.46h-4.91zM566.37 747.37h2.46v2.46h-2.46zM573.73 747.37h2.46v2.46h-2.46zM581.10 747.37h12.28v2.46h-12.28zM595.83 747.37h4.91v2.46h-4.91zM603.19 747.37h4.91v2.46h-4.91zM610.56 747.37h2.46v2.46h-2.46zM615.47 747.37h12.28v2.46h-12.28zM559.00 749.83h2.46v2.46h-2.46zM566.37 749.83h2.46v2.46h-2.46zM576.19 749.83h2.46v2.46h-2.46zM583.55 749.83h4.91v2.46h-4.91zM590.92 749.83h4.91v2.46h-4.91zM598.28 749.83h4.91v2.46h-4.91zM608.10 749.83h2.46v2.46h-2.46zM620.38 749.83h4.91v2.46h-4.91zM559.00 752.28h2.46v2.46h-2.46zM563.91 752.28h2.46v2.46h-2.46zM568.82 752.28h9.82v2.46h-9.82zM581.10 752.28h2.46v2.46h-2.46zM588.46 752.28h2.46v2.46h-2.46zM593.37 752.28h2.46v2.46h-2.46zM598.28 752.28h2.46v2.46h-2.46zM605.65 752.28h2.46v2.46h-2.46zM613.01 752.28h7.37v2.46h-7.37zM622.83 752.28h4.91v2.46h-4.91zM561.46 754.74h2.46v2.46h-2.46zM566.37 754.74h7.37v2.46h-7.37zM576.19 754.74h2.46v2.46h-2.46zM583.55 754.74h9.82v2.46h-9.82zM603.19 754.74h12.28v2.46h-12.28zM617.92 754.74h2.46v2.46h-2.46zM622.83 754.74h7.37v2.46h-7.37zM559.00 757.19h9.82v2.46h-9.82zM571.28 757.19h9.82v2.46h-9.82zM595.83 757.19h2.46v2.46h-2.46zM613.01 757.19h4.91v2.46h-4.91zM620.38 757.19h2.46v2.46h-2.46zM625.29 757.19h2.46v2.46h-2.46zM559.00 759.65h4.91v2.46h-4.91zM566.37 759.65h2.46v2.46h-2.46zM571.28 759.65h2.46v2.46h-2.46zM578.64 759.65h2.46v2.46h-2.46zM588.46 759.65h2.46v2.46h-2.46zM593.37 759.65h14.73v2.46h-14.73zM620.38 759.65h2.46v2.46h-2.46zM625.29 759.65h2.46v2.46h-2.46zM559.00 762.10h4.91v2.46h-4.91zM571.28 762.10h4.91v2.46h-4.91zM586.01 762.10h2.46v2.46h-2.46zM593.37 762.10h2.46v2.46h-2.46zM605.65 762.10h24.55v2.46h-24.55zM583.55 764.56h2.46v2.46h-2.46zM588.46 764.56h2.46v2.46h-2.46zM593.37 764.56h7.37v2.46h-7.37zM608.10 764.56h2.46v2.46h-2.46zM617.92 764.56h2.46v2.46h-2.46zM622.83 764.56h2.46v2.46h-2.46zM559.00 767.01h17.19v2.46h-17.19zM588.46 767.01h2.46v2.46h-2.46zM593.37 767.01h2.46v2.46h-2.46zM598.28 767.01h12.28v2.46h-12.28zM613.01 767.01h2.46v2.46h-2.46zM617.92 767.01h9.82v2.46h-9.82zM559.00 769.47h2.46v2.46h-2.46zM573.73 769.47h2.46v2.46h-2.46zM578.64 769.47h9.82v2.46h-9.82zM598.28 769.47h2.46v2.46h-2.46zM603.19 769.47h2.46v2.46h-2.46zM608.10 769.47h2.46v2.46h-2.46zM617.92 769.47h4.91v2.46h-4.91zM625.29 769.47h4.91v2.46h-4.91zM559.00 771.92h2.46v2.46h-2.46zM563.91 771.92h7.37v2.46h-7.37zM573.73 771.92h2.46v2.46h-2.46zM578.64 771.92h2.46v2.46h-2.46zM583.55 771.92h9.82v2.46h-9.82zM603.19 771.92h2.46v2.46h-2.46zM608.10 771.92h12.28v2.46h-12.28zM627.74 771.92h2.46v2.46h-2.46zM559.00 774.38h2.46v2.46h-2.46zM563.91 774.38h7.37v2.46h-7.37zM573.73 774.38h2.46v2.46h-2.46zM578.64 774.38h2.46v2.46h-2.46zM590.92 774.38h2.46v2.46h-2.46zM595.83 774.38h12.28v2.46h-12.28zM615.47 774.38h2.46v2.46h-2.46zM625.29 774.38h4.91v2.46h-4.91zM559.00 776.83h2.46v2.46h-2.46zM563.91 776.83h7.37v2.46h-7.37zM573.73 776.83h2.46v2.46h-2.46zM578.64 776.83h4.91v2.46h-4.91zM586.01 776.83h2.46v2.46h-2.46zM593.37 776.83h4.91v2.46h-4.91zM600.74 776.83h2.46v2.46h-2.46zM605.65 776.83h12.28v2.46h-12.28zM620.38 776.83h7.37v2.46h-7.37zM559.00 779.29h2.46v2.46h-2.46zM573.73 779.29h2.46v2.46h-2.46zM578.64 779.29h7.37v2.46h-7.37zM590.92 779.29h2.46v2.46h-2.46zM598.28 779.29h2.46v2.46h-2.46zM603.19 779.29h2.46v2.46h-2.46zM615.47 779.29h7.37v2.46h-7.37zM625.29 779.29h2.46v2.46h-2.46zM559.00 781.74h17.19v2.46h-17.19zM578.64 781.74h4.91v2.46h-4.91zM588.46 781.74h4.91v2.46h-4.91zM600.74 781.74h2.46v2.46h-2.46zM605.65 781.74h9.82v2.46h-9.82zM617.92 781.74h2.46v2.46h-2.46zM625.29 781.74h2.46v2.46h-2.46z"/>
</svg>
</body></html>
